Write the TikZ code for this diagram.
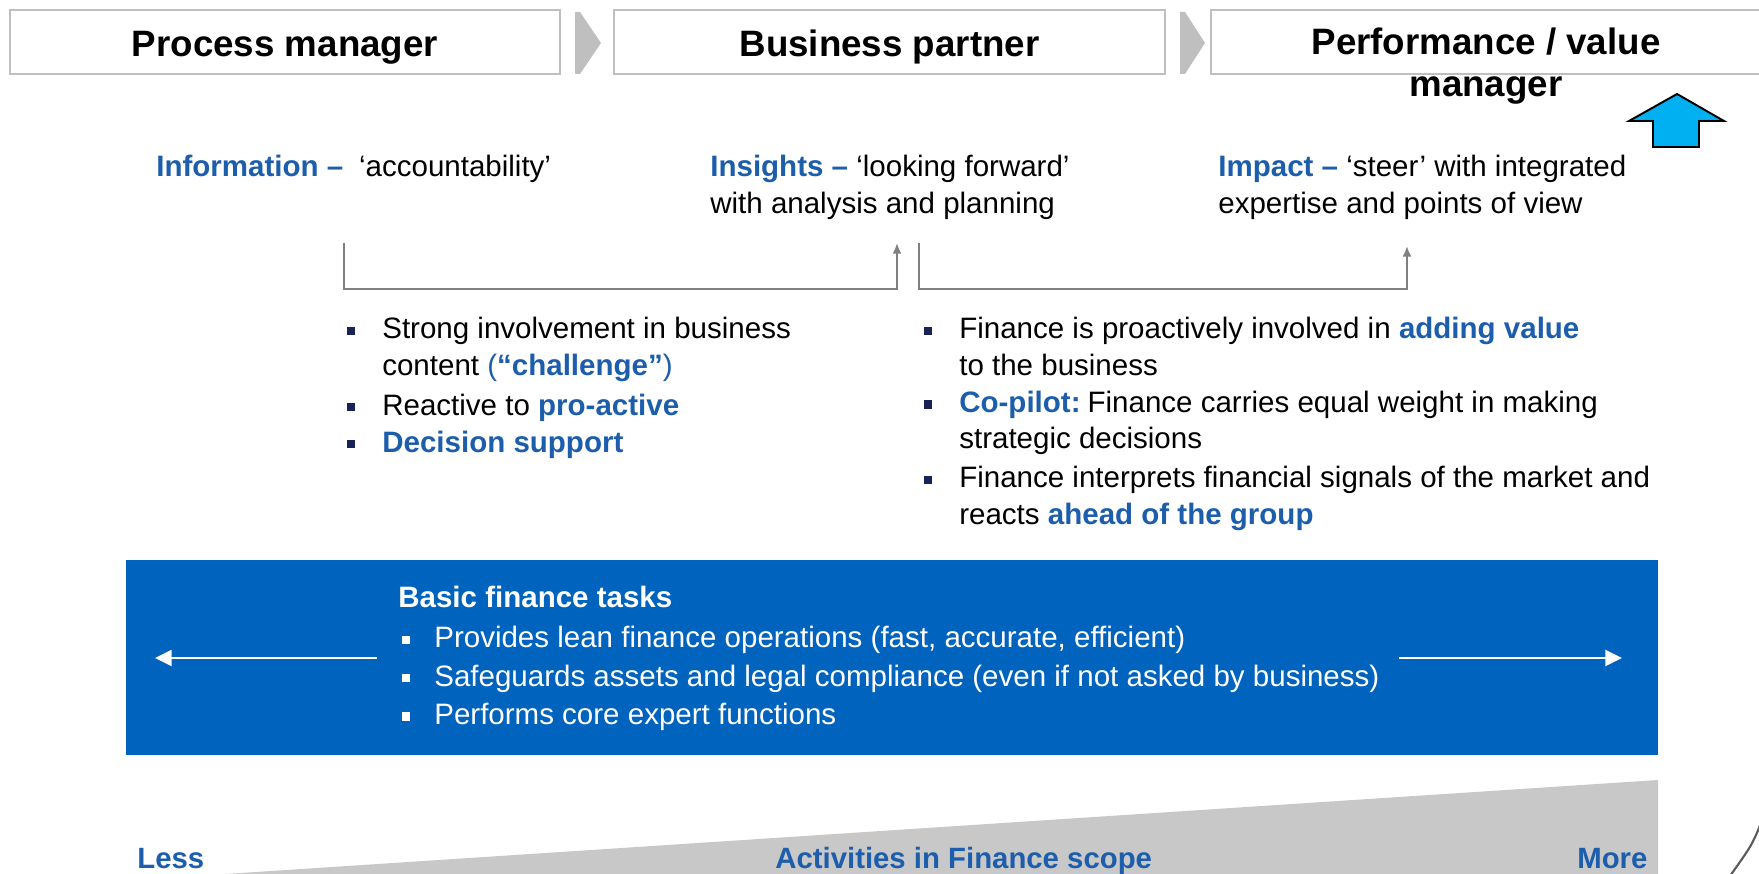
\documentclass[tikz,border=0pt]{standalone}
\usepackage{fontspec}
\setmainfont{Liberation Sans}
\usepackage{xcolor}
\usepackage{tikz}
\usetikzlibrary{arrows.meta}
\definecolor{fsgray}{RGB}{191,191,191}
\definecolor{fsline}{RGB}{128,128,128}
\definecolor{fsband}{RGB}{0,99,190}
\definecolor{fstext}{RGB}{28,94,172}
\definecolor{fsbullet}{RGB}{25,35,90}
\definecolor{fswedge}{RGB}{200,200,200}
\definecolor{fscyan}{RGB}{0,176,240}
\definecolor{fsarc}{RGB}{90,90,90}
\newcommand{\hl}[1]{\textcolor{fstext}{\textbf{#1}}}
\newcommand{\sqb}{\raisebox{2.3pt}{\rule{4.5pt}{4.8pt}}}
\newcommand{\navysqb}{\textcolor{fsbullet}{\sqb}}
\tikzset{
    headbox/.style={draw=fsgray, line width=1.1pt, fill=white, inner sep=0pt,
                    minimum width=11.02cm, minimum height=1.28cm},
    headtext/.style={font=\fontsize{20.9pt}{23.9pt}\selectfont\bfseries, inner sep=0pt},
    bodytext/.style={font=\fontsize{16.8pt}{20.5pt}\selectfont, inner sep=0pt, anchor=base west},
    bandtext/.style={font=\fontsize{16.8pt}{21.9pt}\selectfont, text=white, inner sep=0pt, anchor=base west},
    scaletext/.style={font=\fontsize{16.7pt}{20pt}\selectfont\bfseries, text=fstext, inner sep=0pt, anchor=base west},
    bracket/.style={draw=fsline, line width=1.1pt, -{Latex[length=6pt,width=5pt]}},
    bandarrow/.style={draw=white, line width=1.7pt, -{Triangle[length=9.5pt,width=9pt]}}
}

\begin{document}
\begin{tikzpicture}[x=0.02cm, y=-0.02cm]
        \useasboundingbox (0,0) rectangle (1759,874);

        \node[headbox] (pmbox) at (285,42) {};
        \node[headbox] (bpbox) at (889.5,42) {};
        \node[headbox] (pvbox) at (1486.5,42) {};
        \fill[fsgray] (575,12) -- (580,12) -- (601,43) -- (580,74) -- (575,74) -- cycle;
        \fill[fsgray] (1180,12) -- (1185,12) -- (1205,43) -- (1185,74) -- (1180,74) -- cycle;
        \node[headtext, anchor=base] (pmtext) at (285,57) {Process manager};
        \node[headtext, anchor=base] (bptext) at (889.5,57) {Business partner};
        \node[headtext, anchor=base] (pvtext) at (1486,55) {
            \begin{tabular}[t]{@{}c@{}}
                Performance / value\\
                manager
            \end{tabular}
        };
        \filldraw[fill=fscyan, draw=black, line width=1.1pt]
            (1653,147) -- (1653,121) -- (1629,121) -- (1677,94) -- (1724,121) -- (1699,121) -- (1699,147) -- cycle;

        \node[bodytext] (info) at (156,177) {\hl{Information --}\hspace{9pt}‘accountability’};
        \node[bodytext] (insights) at (710,177) {
            \begin{tabular}[t]{@{}l@{}}
                \hl{Insights --} ‘looking forward’\\
                with analysis and planning
            \end{tabular}
        };
        \node[bodytext] (impact) at (1218,177) {
            \begin{tabular}[t]{@{}l@{}}
                \hl{Impact --} ‘steer’ with integrated\\
                expertise and points of view
            \end{tabular}
        };

        \coordinate (infofoot) at (344,243);
        \coordinate (insfoot) at (897,243);
        \coordinate (insstart) at (919,243);
        \coordinate (impfoot) at (1407,246);
        \draw[bracket] (infofoot) -- ++(0,46) -| (insfoot);
        \draw[bracket] (insstart) -- ++(0,46) -| (impfoot);

        \node[bodytext] (bplist) at (347,339) {
            \begin{tabular}[t]{@{}l@{\hspace{15.4pt}}l@{}}
                \navysqb & Strong involvement in business\\
                         & content \textcolor{fstext}{(\textbf{“challenge”})}\\[2.3pt]
                \navysqb & Reactive to \hl{pro-active}\\[0.6pt]
                \navysqb & \hl{Decision support}
            \end{tabular}
        };
        \node[bodytext] (pvlist) at (924,339) {
            \begin{tabular}[t]{@{}l@{\hspace{15.4pt}}l@{}}
                \navysqb & Finance is proactively involved in \hl{adding value}\\
                         & to the business\\[1.1pt]
                \navysqb & \hl{Co-pilot:}\hspace{4pt}Finance carries equal weight in making\\
                         & strategic decisions\\[1.7pt]
                \navysqb & Finance interprets financial signals of the market and\\
                         & reacts \hl{ahead of the group}
            \end{tabular}
        };

        \fill[fsband] (126,560) rectangle (1658,755);
        \node[bandtext] (basictitle) at (398,608) {\textbf{Basic finance tasks}};
        \node[bandtext] (basiclist) at (402,648) {
            \begin{tabular}[t]{@{}l@{\hspace{13.7pt}}l@{}}
                \sqb & Provides lean finance operations (fast, accurate, efficient)\\
                \sqb & Safeguards assets and legal compliance (even if not asked by business)\\
                \sqb & Performs core expert functions
            \end{tabular}
        };
        \coordinate (lessstart) at (377,658);
        \coordinate (lesstip) at (155,658);
        \coordinate (morestart) at (1399,658);
        \coordinate (moretip) at (1622,658);
        \draw[bandarrow] (lessstart) -- (lesstip);
        \draw[bandarrow] (morestart) -- (moretip);

        \fill[fswedge] (195,876) -- (1658,780) -- (1658,876) -- cycle;
        \node[scaletext] (less) at (137,868) {Less};
        \node[scaletext] (scope) at (775,868) {Activities in Finance scope};
        \node[scaletext] (more) at (1577,868) {More};

        \draw[fsarc, line width=1.2pt] (1761,823) .. controls (1752,845) .. (1730,876);
    \end{tikzpicture}
\end{document}
